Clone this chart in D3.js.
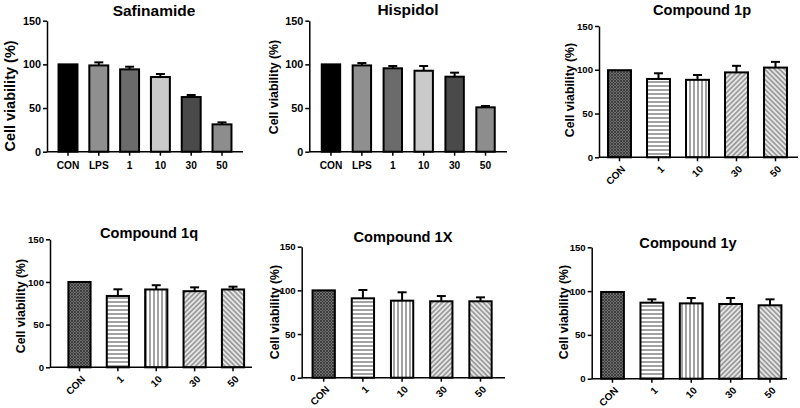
<!DOCTYPE html>
<html><head><meta charset="utf-8">
<script src="https://cdn.jsdelivr.net/npm/d3@7"></script>
<style>
body{margin:0;background:#fff}
svg{display:block}
text{font-family:Arial,"Liberation Sans",sans-serif;font-weight:bold;fill:#000}
</style>
</head><body>
<svg id="chart" width="800" height="408"></svg>
<script>
// ---------- data ----------
const catsLPS = ["CON","LPS","1","10","30","50"];
const catsCmp = ["CON","1","10","30","50"];
const yTicks = [0,50,100,150];
const yLabel = "Cell viability (%)";

const safinamideMean = [100,98.8,94.3,85.5,62.6,31.3];
const safinamideErr  = [0,3.5,3,3.5,2.3,2.3];
const hispidolMean   = [100,98.8,95.5,92.7,85.9,50.8];
const hispidolErr    = [0,2.7,2.6,5.4,4.6,1.5];
const cmp1pMean = [99.5,89.5,88.5,97,102.5];
const cmp1pErr  = [0,6.5,5.5,7.5,6.5];
const cmp1qMean = [100,83.6,91.2,89.2,91.2];
const cmp1qErr  = [0,7.8,5,4.5,3.3];
const cmp1XMean = [100,90.9,88.2,87.5,87.5];
const cmp1XErr  = [0,9.5,9.6,6,4.5];
const cmp1yMean = [99,86.8,86,85.3,83.8];
const cmp1yErr  = [0,3.8,6.1,6.8,6.8];

// ---------- styles ----------
const greyFills = ["#000000","#8f8f8f","#6b6b6b","#cacaca","#4a4a4a","#8d8d8d"];
const patFills = ["url(#pCross)","url(#pHoriz)","url(#pVert)","url(#pDiagR)","url(#pDiagL)"];

const svg = d3.select("#chart");
const defs = svg.append("defs");

const pc = defs.append("pattern").attr("id","pCross").attr("patternUnits","userSpaceOnUse").attr("width",3).attr("height",3);
pc.append("rect").attr("width",3).attr("height",3).attr("fill","#6e6e6e");
pc.append("path").attr("d","M0,0L3,3M3,0L0,3").attr("stroke","#3a3a3a").attr("stroke-width",0.9);
const ph = defs.append("pattern").attr("id","pHoriz").attr("patternUnits","userSpaceOnUse").attr("width",4).attr("height",4);
ph.append("rect").attr("width",4).attr("height",4).attr("fill","#fff");
ph.append("path").attr("d","M0,2H4").attr("stroke","#7a7a7a").attr("stroke-width",1.4);
const pv = defs.append("pattern").attr("id","pVert").attr("patternUnits","userSpaceOnUse").attr("width",4).attr("height",4);
pv.append("rect").attr("width",4).attr("height",4).attr("fill","#fff");
pv.append("path").attr("d","M2,0V4").attr("stroke","#7a7a7a").attr("stroke-width",1.4);
const pr = defs.append("pattern").attr("id","pDiagR").attr("patternUnits","userSpaceOnUse").attr("width",3.5).attr("height",3.5).attr("patternTransform","rotate(45)");
pr.append("rect").attr("width",3.5).attr("height",3.5).attr("fill","#e6e6e6");
pr.append("path").attr("d","M1.75,0V3.5").attr("stroke","#7a7a7a").attr("stroke-width",1.2);
const pl = defs.append("pattern").attr("id","pDiagL").attr("patternUnits","userSpaceOnUse").attr("width",3.5).attr("height",3.5).attr("patternTransform","rotate(-45)");
pl.append("rect").attr("width",3.5).attr("height",3.5).attr("fill","#e6e6e6");
pl.append("path").attr("d","M1.75,0V3.5").attr("stroke","#7a7a7a").attr("stroke-width",1.2);

// ---------- panel layouts ----------
const panels = [
  {title:"Safinamide", cats:catsLPS, mean:safinamideMean, err:safinamideErr, fills:greyFills,
   ax:47, axEnd:243, y0:151.7, y1:20.7, band:[52.6,237.4], pad:0.32, rotate:false,
   tx:154, ty:16, tfs:15.5, lx:15, ly:96, lfs:14.5, yFs:10.8, xFs:10.2},
  {title:"Hispidol", cats:catsLPS, mean:hispidolMean, err:hispidolErr, fills:greyFills,
   ax:309.3, axEnd:507, y0:151.7, y1:20.7, band:[315.5,501], pad:0.34, rotate:false,
   tx:408, ty:15, tfs:15.5, lx:278, ly:87, lfs:12.3, yFs:10.8, xFs:10.2},
  {title:"Compound 1p", cats:catsCmp, mean:cmp1pMean, err:cmp1pErr, fills:patFills,
   ax:599, axEnd:798, y0:157.3, y1:26, band:[600,795], pad:0.36, rotate:true,
   tx:702, ty:15, tfs:14.6, lx:574, ly:90, lfs:12.3, yFs:9.6, xFs:10},
  {title:"Compound 1q", cats:catsCmp, mean:cmp1qMean, err:cmp1qErr, fills:patFills,
   ax:50, axEnd:252, y0:367.3, y1:239.3, band:[60.3,252.2], pad:0.37, rotate:true,
   tx:149, ty:238, tfs:14.6, lx:25, ly:306, lfs:12.3, yFs:9.6, xFs:10},
  {title:"Compound 1X", cats:catsCmp, mean:cmp1XMean, err:cmp1XErr, fills:patFills,
   ax:301.7, axEnd:505, y0:377.7, y1:246.7, band:[304.1,500.1], pad:0.38, rotate:true,
   tx:403, ty:242, tfs:14.6, lx:279, ly:312, lfs:12.3, yFs:9.6, xFs:10},
  {title:"Compound 1y", cats:catsCmp, mean:cmp1yMean, err:cmp1yErr, fills:patFills,
   ax:591.7, axEnd:787, y0:378.7, y1:247.3, band:[592.8,789.7], pad:0.37, rotate:true,
   tx:688, ty:248, tfs:14.6, lx:568, ly:312, lfs:12.3, yFs:9.6, xFs:10}
];

const FONT = "Arial, 'Liberation Sans', sans-serif";

function drawPanel(c){
  const g = svg.append("g");
  const x = d3.scaleBand().domain(c.cats).range(c.band).paddingInner(c.pad).paddingOuter(c.pad/2);
  const y = d3.scaleLinear().domain([0,150]).range([c.y0,c.y1]);
  const bw = x.bandwidth();
  const rows = c.cats.map((k,i)=>({k, m:c.mean[i], e:c.err[i], f:c.fills[i]}));

  const eb = g.append("g").attr("stroke","#000").attr("stroke-width",2).attr("fill","none");
  rows.filter(d=>d.e>0).forEach(d=>{
    const cx = x(d.k)+bw/2;
    eb.append("line").attr("x1",cx).attr("x2",cx).attr("y1",y(d.m)).attr("y2",y(d.m+d.e));
    eb.append("line").attr("x1",cx-4.5).attr("x2",cx+4.5).attr("y1",y(d.m+d.e)).attr("y2",y(d.m+d.e));
  });

  g.append("g").selectAll("rect").data(rows).join("rect")
    .attr("x",d=>x(d.k)+1).attr("y",d=>y(d.m))
    .attr("width",bw-2).attr("height",d=>y(0)-y(d.m))
    .attr("fill",d=>d.f).attr("stroke","#000").attr("stroke-width",2);

  const ya = g.append("g").attr("transform",`translate(${c.ax},0)`)
    .call(d3.axisLeft(y).tickValues(yTicks).tickSize(4).tickPadding(2).tickSizeOuter(0));
  ya.select(".domain").attr("stroke-width",1.5);
  ya.selectAll(".tick line").attr("stroke-width",1.5);
  ya.selectAll("text").style("font-size",c.yFs+"px").style("font-weight","bold").style("font-family",FONT);

  const xa = g.append("g").attr("transform",`translate(0,${c.y0})`)
    .call(d3.axisBottom(x).tickSize(4).tickPadding(5).tickSizeOuter(0));
  xa.select(".domain").remove();
  xa.append("line").attr("x1",c.ax).attr("x2",c.axEnd).attr("stroke","#000").attr("stroke-width",1.5);
  xa.selectAll(".tick line").attr("stroke-width",1.5);
  const xt = xa.selectAll(".tick text").style("font-size",c.xFs+"px")
    .style("font-weight","bold").style("font-family",FONT);
  if(c.rotate){
    xt.attr("y",0).attr("x",0).attr("dy","0.35em")
      .attr("transform","translate(4,10) rotate(-45)").style("text-anchor","end");
  } else {
    xt.attr("dy","0.85em");
  }

  g.append("text").attr("x",c.tx).attr("y",c.ty).attr("text-anchor","middle")
    .style("font-size",c.tfs+"px").text(c.title);
  g.append("text").attr("transform",`translate(${c.lx},${c.ly}) rotate(-90)`)
    .attr("text-anchor","middle").style("font-size",c.lfs+"px").text(yLabel);
}

panels.forEach(drawPanel);
</script>
</body></html>
